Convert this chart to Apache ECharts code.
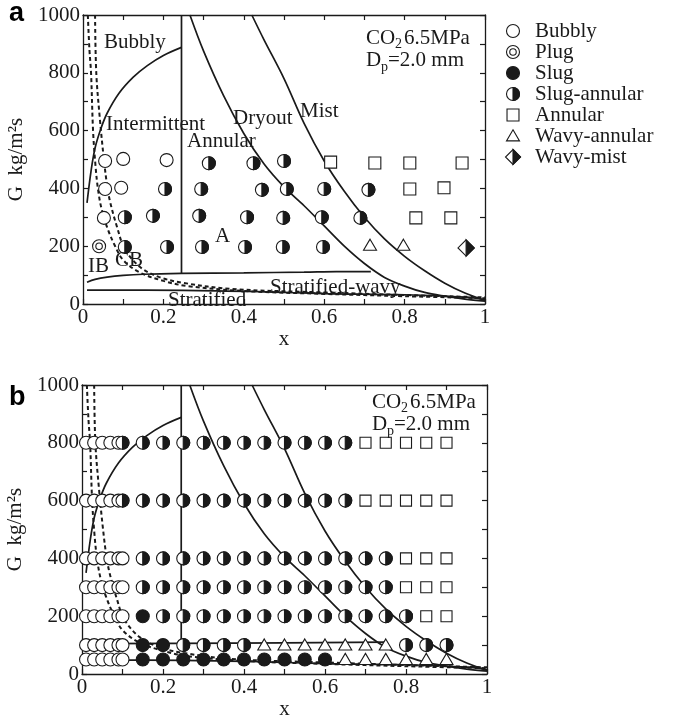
<!DOCTYPE html>
<html><head><meta charset="utf-8">
<script src="https://cdn.jsdelivr.net/npm/echarts@6/dist/echarts.min.js"></script>
<style>html,body{margin:0;padding:0;background:#fff}#c{width:675px;height:715px}</style>
</head><body><div id="c"></div>
<script>
// ---------- tick labels ----------
const xTickLabels = ['0','0.2','0.4','0.6','0.8','1'];
const yTickLabels = ['0','200','400','600','800','1000'];

// ---------- panel a : observed points [x, G] ----------
const aBubbly = [[0.055,495],[0.1,502],[0.208,498],[0.055,398],[0.095,402],[0.052,298]];
const aPlug = [[0.04,200]];
const aSlugAnnular = [[0.313,487],[0.424,487],[0.5,495],
  [0.204,398],[0.294,398],[0.445,395],[0.507,398],[0.6,398],[0.71,395],
  [0.104,300],[0.174,305],[0.289,305],[0.408,300],[0.498,298],[0.594,300],[0.69,298],
  [0.104,197],[0.209,197],[0.296,197],[0.403,197],[0.497,197],[0.597,197]];
const aAnnular = [[0.616,491],[0.726,488],[0.813,488],[0.943,488],[0.813,398],[0.898,402],[0.828,298],[0.915,298]];
const aWavyAnnular = [[0.714,203],[0.797,203]];
const aWavyMist = [[0.953,194]];

// ---------- panel b : observed points [x, G] ----------
const bBubbly = [
  [0.01,800],[0.03,800],[0.05,800],[0.07,800],[0.09,800],
  [0.01,600],[0.03,600],[0.05,600],[0.07,600],[0.09,600],
  [0.01,400],[0.03,400],[0.05,400],[0.07,400],[0.09,400],[0.1,400],
  [0.01,300],[0.03,300],[0.05,300],[0.07,300],[0.09,300],[0.1,300],
  [0.01,200],[0.03,200],[0.05,200],[0.07,200],[0.09,200],[0.1,200],
  [0.01,100],[0.03,100],[0.05,100],[0.07,100],[0.09,100],[0.1,100],
  [0.01,50],[0.03,50],[0.05,50],[0.07,50],[0.09,50],[0.1,50]];
const bSlug = [[0.15,200],[0.15,100],[0.2,100],
  [0.15,50],[0.2,50],[0.25,50],[0.3,50],[0.35,50],[0.4,50],[0.45,50],[0.5,50],[0.55,50],[0.6,50]];
const bSlugAnnular = [
  [0.1,800],[0.15,800],[0.2,800],[0.25,800],[0.3,800],[0.35,800],[0.4,800],[0.45,800],[0.5,800],[0.55,800],[0.6,800],[0.65,800],
  [0.1,600],[0.15,600],[0.2,600],[0.25,600],[0.3,600],[0.35,600],[0.4,600],[0.45,600],[0.5,600],[0.55,600],[0.6,600],[0.65,600],
  [0.15,400],[0.2,400],[0.25,400],[0.3,400],[0.35,400],[0.4,400],[0.45,400],[0.5,400],[0.55,400],[0.6,400],[0.65,400],[0.7,400],[0.75,400],
  [0.15,300],[0.2,300],[0.25,300],[0.3,300],[0.35,300],[0.4,300],[0.45,300],[0.5,300],[0.55,300],[0.6,300],[0.65,300],[0.7,300],[0.75,300],
  [0.2,200],[0.25,200],[0.3,200],[0.35,200],[0.4,200],[0.45,200],[0.5,200],[0.55,200],[0.6,200],[0.65,200],[0.7,200],[0.75,200],[0.8,200],
  [0.25,100],[0.3,100],[0.35,100],[0.4,100],[0.8,100],[0.85,100],[0.9,100]];
const bAnnular = [
  [0.7,800],[0.75,800],[0.8,800],[0.85,800],[0.9,800],
  [0.7,600],[0.75,600],[0.8,600],[0.85,600],[0.9,600],
  [0.8,400],[0.85,400],[0.9,400],
  [0.8,300],[0.85,300],[0.9,300],
  [0.85,200],[0.9,200]];
const bWavyAnnular = [
  [0.45,100],[0.5,100],[0.55,100],[0.6,100],[0.65,100],[0.7,100],[0.75,100],
  [0.65,50],[0.7,50],[0.75,50],[0.8,50],[0.85,50],[0.9,50]];

// ---------- transition lines [x, G] ----------
const bubblyCurve = [[0.01,350],[0.02,460],[0.03,540],[0.044,605],[0.06,660],[0.09,730],[0.125,785],[0.16,825],[0.2,860],[0.245,888]];
const verticalA = [[0.245,106],[0.245,1000]];
const verticalB = [[0.245,100],[0.245,1000]];
const dryoutCurve = [[0.266,1000],[0.3,875],[0.35,720],[0.4,590],[0.45,485],[0.5,405],[0.55,340],[0.6,270],[0.65,200],[0.7,140],[0.75,92],[0.8,62],[0.85,40],[0.9,27],[0.95,17],[1,10]];
const mistCurve = [[0.42,1000],[0.45,915],[0.5,780],[0.55,625],[0.6,495],[0.65,390],[0.7,300],[0.75,225],[0.8,165],[0.85,115],[0.9,72],[0.95,38],[1,12]];
const dashedLeft = [[0.012,1000],[0.016,880],[0.02,800],[0.025,600],[0.031,480],[0.037,400],[0.046,330],[0.06,265],[0.08,200],[0.1,152],[0.14,110],[0.2,80],[0.26,62],[0.4,45],[0.6,35],[0.8,27],[1,20]];
const dashedRight = [[0.03,1000],[0.033,800],[0.042,640],[0.052,500],[0.06,410],[0.068,350],[0.085,265],[0.104,190],[0.142,128],[0.19,93],[0.25,73],[0.37,52],[0.6,40],[0.8,31],[1,23]];
const stratWavyA = [[0.01,75],[0.03,85],[0.06,93],[0.1,99],[0.15,103],[0.245,106],[0.4,108],[0.55,110],[0.63,112],[0.716,112]];
const stratWavyB = [[0.01,105],[0.245,106],[0.5,108],[0.75,110]];
const stratifiedLine = [[0.01,48],[0.25,47],[0.45,42],[0.6,36],[0.8,32],[0.95,24],[1,15]];

// ---------- legend ----------
const legendNames = ['Bubbly','Plug','Slug','Slug-annular','Annular','Wavy-annular','Wavy-mist'];
const legendTypes = ['bubbly','plug','slug','slugAnnular','annular','wavyAnnular','wavyMist'];

const FONT = 'Liberation Serif';
const INK = '#1a1a1a';
const FS = 21;

function drawMarker(type, x, y, r) {
  const sw = 1.1;
  const circ = (rr, fill) => ({type:'circle', shape:{cx:x, cy:y, r:rr}, style:{fill:fill, stroke:INK, lineWidth:sw}});
  switch (type) {
    case 'bubbly': return circ(r, '#fff');
    case 'plug': return {type:'group', children:[circ(r,'#fff'), circ(r*0.5,'#fff')]};
    case 'slug': return circ(r, INK);
    case 'slugAnnular': return {type:'group', children:[circ(r,'#fff'),
      {type:'sector', shape:{cx:x, cy:y, r0:0, r:r, startAngle:-Math.PI/2, endAngle:Math.PI/2, clockwise:true},
       style:{fill:INK, stroke:INK, lineWidth:sw}}]};
    case 'annular': { const s = r*0.92; return {type:'rect', shape:{x:x-s, y:y-s, width:2*s, height:2*s}, style:{fill:'#fff', stroke:INK, lineWidth:sw}}; }
    case 'wavyAnnular': return {type:'polygon', shape:{points:[[x,y-r*0.95],[x+r*1.0,y+r*0.75],[x-r*1.0,y+r*0.75]]}, style:{fill:'#fff', stroke:INK, lineWidth:sw}};
    case 'wavyMist': { const d = r*1.25; return {type:'group', children:[
      {type:'polygon', shape:{points:[[x,y-d],[x+d,y],[x,y+d],[x-d,y]]}, style:{fill:'#fff', stroke:INK, lineWidth:sw}},
      {type:'polygon', shape:{points:[[x,y-d],[x+d,y],[x,y+d]]}, style:{fill:INK, stroke:INK, lineWidth:sw}}]}; }
  }
}

function markerSeries(name, data, type, idx, r) {
  return {type:'custom', name:name, xAxisIndex:idx, yAxisIndex:idx, data:data, z:5, silent:true, animation:false,
    renderItem:function(params, api){
      const p = api.coord([api.value(0), api.value(1)]);
      return drawMarker(type, p[0], p[1], r);
    }};
}
function lineSeries(data, idx, dashed, smooth) {
  return {type:'line', xAxisIndex:idx, yAxisIndex:idx, data:data, symbol:'none', showSymbol:false,
    smooth: smooth ? 0.35 : false, z:2, silent:true, animation:false,
    lineStyle:{color:INK, width: dashed ? 2 : 1.7, type: dashed ? [4,3] : 'solid'}};
}

function fmtX(v){ const k = Math.round(v*10); return k % 2 === 0 ? xTickLabels[k/2] : ''; }
function fmtY(v){ const k = Math.round(v/100); return k % 2 === 0 ? yTickLabels[k/2] : ''; }

const axisLineSt = {show:true, onZero:false, lineStyle:{color:INK, width:1.3}};
const tickSt = {show:true, inside:true, length:5, lineStyle:{color:INK, width:1.2}};
const nameSt = {color:INK, fontFamily:FONT, fontSize:FS};

function xAx(grid, pos, labels) {
  return {type:'value', gridIndex:grid, position:pos, min:0, max:1, interval:0.1,
    axisLine:axisLineSt, axisTick:tickSt, splitLine:{show:false},
    axisLabel:{show:labels, formatter:fmtX, color:INK, fontFamily:FONT, fontSize:FS, margin:3, hideOverlap:false},
    name: labels ? 'x' : '', nameLocation:'middle', nameGap:18, nameTextStyle:nameSt};
}
function yAx(grid, pos, labels) {
  return {type:'value', gridIndex:grid, position:pos, min:0, max:1000, interval:100,
    axisLine:axisLineSt, axisTick:tickSt, splitLine:{show:false},
    axisLabel:{show:labels, formatter:fmtY, color:INK, fontFamily:FONT, fontSize:FS, margin:3, hideOverlap:false},
    name: labels ? 'G  kg/m\u00B2s' : '', nameLocation:'middle', nameGap:46, nameRotate:90, nameTextStyle:nameSt};
}

function txt(s, x, y, size, extra) {
  return Object.assign({type:'text', x:x, y:y, silent:true, z:10,
    style:{text:s, fill:INK, font: size + 'px "' + FONT + '"', textVerticalAlign:'middle', verticalAlign:'middle', align:'left'}}, extra || {});
}

const graphics = [];
// panel letters
graphics.push({type:'text', x:9, y:14, style:{text:'a', fill:'#000', font:'bold 27px "Liberation Sans"', verticalAlign:'middle'}});
graphics.push({type:'text', x:9, y:398, style:{text:'b', fill:'#000', font:'bold 27px "Liberation Sans"', verticalAlign:'middle'}});
// panel a region labels
[['Bubbly',104,42],['Intermittent',106,124],['Annular',187,141],['Dryout',233,118],['Mist',300,111],
 ['A',215,236],['IB',88,266],['CB',115,260],['Stratified-wavy',270,287],['Stratified',168,300]]
 .forEach(t => graphics.push(txt(t[0], t[1], t[2], FS)));
// condition notes
function cond(x0, y0) {
  graphics.push(txt('CO', x0, y0, FS));
  graphics.push(txt('2', x0+29, y0+6, 14));
  graphics.push(txt('6.5MPa', x0+38, y0, FS));
  graphics.push(txt('D', x0, y0+22, FS));
  graphics.push(txt('p', x0+15, y0+29, 14));
  graphics.push(txt('=2.0 mm', x0+22, y0+22, FS));
}
cond(366, 38);
cond(372, 402);
// legend
legendNames.forEach((n, i) => {
  const cy = 31 + 21*i;
  graphics.push(Object.assign({silent:true}, drawMarker(legendTypes[i], 513, cy, legendTypes[i]==='wavyMist' ? 6 : 6.5)));
  graphics.push(txt(n, 535, cy, FS));
});

const option = {
  backgroundColor:'#fff',
  animation:false,
  grid:[
    {left:83, top:15, width:402, height:289, containLabel:false, outerBoundsMode:'none'},
    {left:82, top:385, width:405, height:289, containLabel:false, outerBoundsMode:'none'}
  ],
  xAxis:[xAx(0,'bottom',true), xAx(0,'top',false), xAx(1,'bottom',true), xAx(1,'top',false)],
  yAxis:[yAx(0,'left',true), yAx(0,'right',false), yAx(1,'left',true), yAx(1,'right',false)],
  series:[
    // panel a lines
    lineSeries(bubblyCurve,0,false,true), lineSeries(verticalA,0,false,false),
    lineSeries(dryoutCurve,0,false,true), lineSeries(mistCurve,0,false,true),
    lineSeries(dashedLeft,0,true,true), lineSeries(dashedRight,0,true,true),
    lineSeries(stratWavyA,0,false,true), lineSeries(stratifiedLine,0,false,true),
    // panel a markers
    markerSeries('Bubbly',aBubbly,'bubbly',0,6.5), markerSeries('Plug',aPlug,'plug',0,6.5),
    markerSeries('Slug-annular',aSlugAnnular,'slugAnnular',0,6.5), markerSeries('Annular',aAnnular,'annular',0,6.5),
    markerSeries('Wavy-annular',aWavyAnnular,'wavyAnnular',0,6.5), markerSeries('Wavy-mist',aWavyMist,'wavyMist',0,6.5),
    // panel b lines
    lineSeries(bubblyCurve,2,false,true), lineSeries(verticalB,2,false,false),
    lineSeries(dryoutCurve,2,false,true), lineSeries(mistCurve,2,false,true),
    lineSeries(dashedLeft,2,true,true), lineSeries(dashedRight,2,true,true),
    lineSeries(stratWavyB,2,false,false), lineSeries(stratifiedLine,2,false,true),
    // panel b markers
    markerSeries('Bubbly',bBubbly,'bubbly',2,6.5), markerSeries('Slug',bSlug,'slug',2,6.5),
    markerSeries('Slug-annular',bSlugAnnular,'slugAnnular',2,6.5), markerSeries('Annular',bAnnular,'annular',2,6),
    markerSeries('Wavy-annular',bWavyAnnular,'wavyAnnular',2,6.5)
  ],
  graphic: graphics
};

const chart = echarts.init(document.getElementById('c'), null, {renderer:'canvas'});
chart.setOption(option);
</script>
</body></html>
